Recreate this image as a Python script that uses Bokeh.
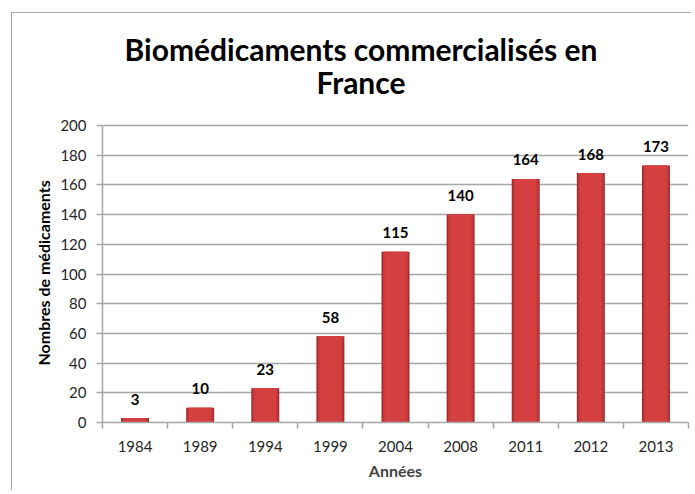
from bokeh.plotting import figure
from bokeh.models import FixedTicker, Label, Range1d, ColumnDataSource, Title
from bokeh.core.properties import value
from bokeh.embed import file_html
from bokeh.resources import INLINE

years = ["1984", "1989", "1994", "1999", "2004", "2008", "2011", "2012", "2013"]
counts = [3, 10, 23, 58, 115, 140, 164, 168, 173]
y_ticks = [0, 20, 40, 60, 80, 100, 120, 140, 160, 180, 200]
title_lines = ["Biomédicaments commercialisés en", "France"]

xs = [i + 0.5 for i in range(len(years))]
src = ColumnDataSource(dict(x=xs, top=counts, lab=[str(c) for c in counts]))

FONT = "Lato"
W, H = 680, 478
FRAME_BOTTOM = 69
PX_PER_UNIT = 297 / 200.0
y_top = (H - FRAME_BOTTOM) / PX_PER_UNIT

p = figure(width=W, height=H, output_backend="svg", toolbar_location=None,
           x_range=Range1d(0, len(years)), y_range=Range1d(0, y_top),
           min_border_left=90, min_border_right=4, min_border_top=0, min_border_bottom=FRAME_BOTTOM)
p.margin = (12, 0, 0, 11)
p.styles = {"border-left": "1.5px solid #a6a6a6", "border-top": "1.5px solid #a6a6a6"}
p.outline_line_color = None
p.background_fill_color = "white"
p.border_fill_color = "white"

# bars with simple shading (dark rim, lighter body)
p.vbar(x="x", top="top", bottom=0, width=0.43, source=src, fill_color="#a3292b", line_color=None)
p.vbar(x="x", top="top", bottom=0, width=0.39, source=src, fill_color="#c4393b", line_color=None)
p.vbar(x="x", top="top", bottom=0, width=0.33, source=src, fill_color="#d3403f", line_color=None)

p.text(x="x", y="top", text="lab", source=src, text_align="center", text_baseline="alphabetic",
       y_offset=-19, text_font=value(FONT), text_font_style="bold", text_font_size="15px",
       text_color="black")

# grid & axes
p.xgrid.grid_line_color = None
p.ygrid.ticker = FixedTicker(ticks=y_ticks)
p.ygrid.grid_line_color = "#a6a6a6"
p.ygrid.grid_line_width = 1.5

xa = p.xaxis[0]
xa.ticker = FixedTicker(ticks=xs, minor_ticks=list(range(len(years) + 1)))
xa.major_label_overrides = {x: y for x, y in zip(xs, years)}
xa.major_tick_out = 0
xa.major_tick_in = 0
xa.minor_tick_out = 6
xa.minor_tick_in = 0
xa.minor_tick_line_color = "#a6a6a6"
xa.minor_tick_line_width = 1.5
xa.axis_line_color = "#a6a6a6"
xa.axis_line_width = 1.5
xa.major_label_standoff = 12
xa.major_label_text_font = FONT
xa.major_label_text_font_size = "15px"
xa.major_label_text_color = "#262626"
xa.axis_label = "Années"
xa.axis_label_text_font = FONT
xa.axis_label_text_font_style = "bold"
xa.axis_label_text_font_size = "16px"
xa.axis_label_standoff = 6

ya = p.yaxis[0]
ya.ticker = FixedTicker(ticks=y_ticks)
ya.bounds = (0, 200)
ya.minor_tick_line_color = None
ya.major_tick_out = 6
ya.major_tick_in = 0
ya.major_tick_line_color = "#a6a6a6"
ya.major_tick_line_width = 1.5
ya.axis_line_color = "#a6a6a6"
ya.axis_line_width = 1.5
ya.major_label_standoff = 10
ya.major_label_text_font = FONT
ya.major_label_text_font_size = "15px"
ya.major_label_text_color = "#262626"

# y axis title, centred on the 0..200 span
p.add_layout(Title(text="Nombres de médicaments", align="left", offset=57,
                   text_font=FONT, text_font_style="bold", text_font_size="16px",
                   text_color="black"), "left")

# chart title (two centred lines in the top part of the frame)
title_x = 258 / 65.0
for line, yy in zip(title_lines, [(H - FRAME_BOTTOM - 35) / PX_PER_UNIT,
                                  (H - FRAME_BOTTOM - 68) / PX_PER_UNIT]):
    p.add_layout(Label(x=title_x, y=yy, text=line, text_align="center",
                       text_baseline="alphabetic", text_font=FONT, text_font_style="bold",
                       text_font_size="30px", text_color="black"))

open("out.html", "w").write(file_html(p, INLINE))
